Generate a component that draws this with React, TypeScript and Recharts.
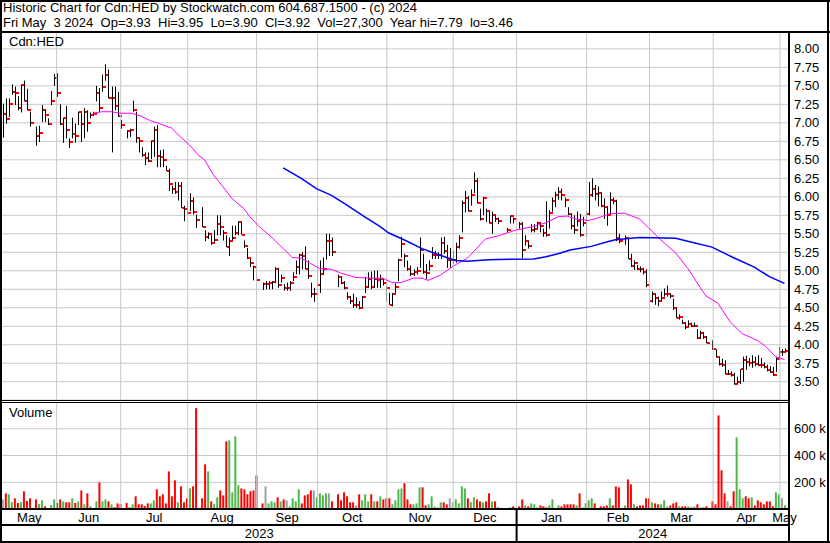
import React from "react";
import {
  Bar,
  CartesianGrid,
  Cell,
  ComposedChart,
  Line,
  ReferenceLine,
  XAxis,
  YAxis,
} from "recharts";

const FONT = '"Liberation Sans", Arial, sans-serif';
const GRID = "#c8c8c8";

// one slot per weekday from Mon 8 May 2023; null = exchange closed
// prettier-ignore
const highs = [
  7.26, 7.33, 7.33, 7.52, 7.49, 7.36, 7.52, 7.57, 7.46, 7.15,
  null, 6.95, 6.96, 7.24, 7.18, 7.06, 7.43, 7.66, 7.67, 7.25,
  7.07, 7.23, 6.79, 7.07, 6.99, 7.15, 7.13, 7.2, 7.17, 7.14,
  7.15, 7.5, 7.47, 7.65, 7.79, 7.72, 7.49, 7.49, 7.42, 7.04,
  null, 6.9, 6.92, 7.3, 7.15, 6.79, 6.67, 6.6, 6.6, 6.76,
  6.95, 6.97, 6.63, 6.64, 6.42, 6.38, 6.15, 6.2, 6.2, 6.2,
  5.88, 5.95, 6.05, 5.99, 5.76, null, 5.86, 5.55, 5.52, 5.48,
  5.55, 5.75, 5.75, 5.55, 5.48, 5.45, 5.61, 5.61, 5.67, 5.66,
  5.41, 5.31, 5.16, 5.07, 5.0, null, 4.84, 4.86, 4.86, 4.86,
  5.05, 5.04, 4.95, 4.82, 4.84, 4.86, 4.98, 5.14, 5.23, 5.25,
  5.33, 5.14, 4.84, 4.77, 5.02, 5.14, 5.18, 5.5, 5.5, 5.45,
  null, 4.95, 4.92, 4.86, 4.71, 4.66, 4.69, 4.64, 4.59, 4.66,
  4.92, 4.98, 4.99, 5.0, 5.0, 4.95, 4.9, 4.8, 4.7, 4.7,
  4.83, 5.16, 5.46, 5.23, 5.14, 5.07, 5.02, 5.05, 5.45, 5.23,
  5.09, 5.14, 5.32, 5.27, 5.25, 5.45, 5.46, 5.35, 5.31, 5.27,
  5.38, 5.48, 5.95, 6.08, 6.01, 6.1, 6.33, 6.25, 5.84, 6.0,
  5.84, 5.8, 5.8, 5.75, 5.72, null, null, 5.58, 5.75, 5.72,
  null, 5.66, 5.66, 5.48, 5.4, 5.63, 5.63, 5.66, 5.64, 5.57,
  5.94, 5.82, 5.99, 6.07, 6.13, 6.11, 5.99, 5.86, 5.77, 5.75,
  5.8, 5.77, 5.73, 5.8, 6.2, 6.25, 6.16, 6.14, 6.05, 5.98,
  5.86, 6.06, 5.99, 5.96, 5.5, null, 5.48, 5.44, 5.23, 5.14,
  5.08, 5.06, 5.04, 5.02, 4.76, 4.72, 4.69, 4.65, 4.72, 4.76,
  4.8, 4.69, 4.62, 4.5, 4.41, 4.34, 4.3, 4.33, 4.3, 4.3,
  4.21, 4.19, 4.17, 4.12, null, 4.06, 3.94, 3.83, 3.81, 3.79,
  3.66, 3.64, 3.62, 3.57, 3.67, 3.84, 3.85, 3.82, 3.86, 3.84,
  3.86, 3.82, 3.76, 3.73, 3.71, 3.7, 3.83, 3.97, 3.94, 3.95,
];

// prettier-ignore
const lows = [
  6.8, 6.99, 7.08, 7.38, 7.24, 7.17, 7.14, 7.29, 7.17, 6.95,
  null, 6.69, 6.74, 7.01, 7.01, 6.97, 7.24, 7.5, 7.35, 6.97,
  6.73, 6.79, 6.66, 6.79, 6.73, 6.97, 6.74, 6.79, 6.88, 7.06,
  7.09, 7.29, 7.15, 7.42, 7.57, 7.33, 6.6, 7.17, 7.08, 6.92,
  null, 6.79, 6.81, 7.15, 6.73, 6.6, 6.54, 6.43, 6.47, 6.51,
  6.54, 6.4, 6.4, 6.4, 6.35, 6.08, 6.04, 6.04, 5.95, 5.85,
  5.67, 5.76, 5.81, 5.76, 5.58, null, 5.59, 5.4, 5.43, 5.35,
  5.39, 5.48, 5.48, 5.41, 5.32, 5.2, 5.41, 5.48, 5.48, 5.49,
  5.31, 5.16, 5.05, 4.87, 4.86, null, 4.74, 4.75, 4.75, 4.75,
  4.83, 4.77, 4.84, 4.73, 4.73, 4.73, 4.86, 4.95, 4.95, 5.02,
  5.02, 4.89, 4.64, 4.58, 4.78, 4.7, 4.95, 5.15, 5.2, 5.2,
  null, 4.78, 4.82, 4.75, 4.61, 4.55, 4.5, 4.5, 4.48, 4.5,
  4.7, 4.77, 4.75, 4.77, 4.77, 4.77, 4.8, 4.59, 4.54, 4.52,
  4.7, 4.86, 5.18, 5.05, 5.0, 4.93, 4.93, 4.95, 5.04, 4.96,
  4.89, 5.0, 5.16, 5.16, 5.16, 5.16, 5.23, 5.04, 5.04, 5.09,
  5.11, 5.3, 5.52, 5.79, 5.8, 5.88, 6.05, 5.91, 5.68, 5.75,
  5.66, 5.64, 5.5, 5.66, 5.63, null, null, 5.52, 5.64, 5.64,
  null, 5.57, 5.17, 5.34, 5.3, 5.52, 5.52, 5.57, 5.52, 5.46,
  5.46, 5.57, 5.8, 5.86, 5.96, 5.95, 5.86, 5.75, 5.56, 5.5,
  5.6, 5.46, 5.6, 5.46, 5.75, 6.0, 5.95, 5.87, 5.86, 5.7,
  5.61, 5.76, 5.9, 5.4, 5.37, null, 5.35, 5.16, 5.05, 5.01,
  5.01, 4.98, 4.95, 4.78, 4.52, 4.57, 4.54, 4.52, 4.59, 4.65,
  4.65, 4.63, 4.47, 4.36, 4.34, 4.28, 4.21, 4.24, 4.24, 4.24,
  4.08, 4.08, 4.08, 4.02, null, 3.93, 3.83, 3.72, 3.7, 3.6,
  3.59, 3.57, 3.46, 3.47, 3.47, 3.5, 3.66, 3.71, 3.69, 3.71,
  3.71, 3.69, 3.68, 3.64, 3.62, 3.58, 3.63, 3.81, 3.85, 3.9,
];

// prettier-ignore
const closes = [
  7.12, 7.05, 7.25, 7.42, 7.4, 7.2, 7.51, 7.3, 7.18, 7.0,
  null, 6.82, 6.86, 7.18, 7.1, 6.99, 7.29, 7.6, 7.41, 6.98,
  7.06, 6.9, 6.74, 6.85, 6.82, 7.14, 6.98, 7.14, 7.0, 7.1,
  7.12, 7.41, 7.2, 7.49, 7.64, 7.33, 7.34, 7.23, 7.09, 6.97,
  null, 6.89, 6.9, 7.17, 6.8, 6.75, 6.57, 6.53, 6.48, 6.75,
  6.9, 6.55, 6.54, 6.5, 6.35, 6.17, 6.11, 6.06, 6.15, 5.85,
  5.84, 5.78, 5.94, 5.79, 5.69, null, 5.59, 5.45, 5.5, 5.37,
  5.41, 5.63, 5.59, 5.51, 5.32, 5.4, 5.44, 5.51, 5.66, 5.49,
  5.34, 5.17, 5.1, 5.05, 4.87, null, 4.82, 4.82, 4.84, 4.85,
  5.03, 4.81, 4.9, 4.77, 4.77, 4.83, 4.92, 5.05, 5.21, 5.2,
  5.02, 4.93, 4.69, 4.69, 4.81, 4.95, 5.02, 5.4, 5.4, 5.26,
  null, 4.92, 4.83, 4.77, 4.64, 4.59, 4.54, 4.54, 4.5, 4.65,
  4.78, 4.89, 4.78, 4.89, 4.87, 4.89, 4.84, 4.77, 4.54, 4.69,
  4.78, 5.15, 5.36, 5.2, 5.02, 4.96, 4.99, 5.0, 5.28, 4.99,
  4.97, 5.07, 5.21, 5.21, 5.21, 5.37, 5.27, 5.15, 5.15, 5.15,
  5.32, 5.44, 5.92, 5.99, 5.81, 6.02, 6.22, 5.91, 5.7, 5.99,
  5.81, 5.65, 5.76, 5.7, 5.67, null, null, 5.55, 5.74, 5.7,
  null, 5.63, 5.28, 5.4, 5.33, 5.55, 5.56, 5.64, 5.6, 5.51,
  5.48, 5.78, 5.94, 6.02, 6.06, 6.02, 5.96, 5.77, 5.6, 5.55,
  5.67, 5.48, 5.65, 5.77, 6.02, 6.11, 6.04, 6.05, 5.88, 5.86,
  5.76, 5.96, 5.95, 5.44, 5.4, null, 5.44, 5.16, 5.06, 5.1,
  5.03, 5.02, 4.98, 4.81, 4.59, 4.69, 4.63, 4.59, 4.63, 4.68,
  4.68, 4.66, 4.49, 4.36, 4.38, 4.3, 4.24, 4.28, 4.26, 4.26,
  4.09, 4.16, 4.11, 4.02, null, 3.94, 3.84, 3.74, 3.72, 3.6,
  3.6, 3.59, 3.47, 3.5, 3.67, 3.8, 3.76, 3.75, 3.77, 3.74,
  3.73, 3.72, 3.7, 3.66, 3.63, 3.59, 3.81, 3.9, 3.9, 3.92,
];

// thousands of shares
// prettier-ignore
const volumes = [
  72, 117, 110, 52, 80, 45, 52, 132, 60, 80,
  null, 72, 37, 65, 20, 7, 30, 72, 45, 72,
  57, 50, 50, 80, 45, 57, 139, 35, 117, 20,
  7, 57, 199, 57, 72, 57, 35, 15, 42, 37,
  null, 45, 15, 35, 95, 35, 35, 22, 42, 42,
  65, 147, 95, 110, 42, 281, 95, 214, 50, 169,
  50, 80, 154, 169, 754, null, 80, 334, 281, 57,
  37, 87, 139, 102, 505, 513, 125, 543, 177, 154,
  147, 110, 132, 139, 251, null, 42, 169, 42, 57,
  50, 87, 57, 72, 65, 20, 80, 57, 147, 42,
  102, 110, 139, 139, 87, 117, 102, 117, 117, 57,
  null, 110, 65, 125, 95, 50, 50, 27, 110, 65,
  110, 57, 110, 57, 57, 95, 72, 80, 80, 35,
  65, 147, 154, 192, 72, 35, 35, 42, 162, 162,
  27, 35, 95, 20, 12, 50, 50, 35, 80, 50,
  72, 42, 169, 154, 80, 50, 87, 72, 57, 50,
  57, 117, 57, 57, 12, null, null, 5, 12, 20,
  null, 20, 72, 27, 20, 42, 35, 12, 27, 20,
  12, 27, 72, 5, 27, 20, 35, 35, 35, 35,
  27, 117, 12, 42, 65, 80, 42, 5, 20, 20,
  27, 80, 27, 169, 162, null, 27, 221, 184, 35,
  20, 27, 27, 80, 80, 50, 42, 35, 35, 65,
  20, 27, 42, 50, 20, 20, 20, 20, 12, 20,
  35, 12, 12, 20, null, 57, 35, 700, 289, 117,
  57, 20, 132, 535, 147, 80, 95, 80, 87, 27,
  65, 50, 35, 57, 57, 20, 125, 110, 80, 27,
];

// moving averages: [slot, price]
const pinkMa: [number, number][] = [
  [30, 7.13], [33, 7.15], [36, 7.15], [39, 7.13], [43, 7.13], [46, 7.09],
  [49, 7.03], [52, 6.99], [56, 6.93], [59, 6.81], [62, 6.7], [65, 6.56],
  [67, 6.5], [70, 6.29], [73, 6.14], [76, 5.98], [80, 5.84], [82, 5.73],
  [85, 5.6], [89, 5.46], [93, 5.3], [96, 5.18], [99, 5.17], [102, 5.1],
  [105, 5.03], [109, 5.02], [112, 4.97], [117, 4.91], [122, 4.9], [126, 4.9],
  [129, 4.84], [132, 4.84], [136, 4.9], [139, 4.9], [141, 4.87], [145, 4.94],
  [150, 5.08], [154, 5.17], [157, 5.3], [160, 5.43], [164, 5.47], [170, 5.55],
  [176, 5.6], [180, 5.65], [184, 5.73], [187, 5.74], [190, 5.7], [194, 5.68],
  [197, 5.71], [201, 5.77], [206, 5.78], [211, 5.7], [214, 5.58], [218, 5.42],
  [223, 5.24], [227, 5.03], [231, 4.78], [233, 4.66], [237, 4.56], [241, 4.31],
  [245, 4.15], [250, 4.06], [253, 3.97], [256, 3.84], [259, 3.8],
];

const blueMa: [number, number][] = [
  [93, 6.39], [99, 6.25], [104, 6.11], [109, 6.02], [114, 5.89], [120, 5.73],
  [125, 5.6], [128, 5.51], [133, 5.42], [139, 5.3], [145, 5.21], [150, 5.14],
  [154, 5.13], [161, 5.15], [176, 5.16], [180, 5.19], [184, 5.23], [188, 5.28],
  [195, 5.33], [201, 5.4], [203, 5.42], [211, 5.45], [223, 5.44], [229, 5.38],
  [235, 5.32], [242, 5.18], [249, 5.05], [254, 4.92], [259, 4.83],
];

const monthNames = ["May", "Jun", "Jul", "Aug", "Sep", "Oct", "Nov", "Dec", "Jan", "Feb", "Mar", "Apr", "May"];
const monthStarts = [18, 39.2, 61.4, 84.2, 104.4, 127.3, 149.3, 170.3, 193.5, 214.3, 235.4, 257.5];
const yearNames = ["2023", "2024"];
const yearBreak = 170.3;
const priceTicks = [3.5, 3.75, 4, 4.25, 4.5, 4.75, 5, 5.25, 5.5, 5.75, 6, 6.25, 6.5, 6.75, 7, 7.25, 7.5, 7.75, 8];
const volumeTicks = [200, 400, 600];

const X_DOMAIN: [number, number] = [-0.1, 260.5];

const rows: any[] = closes.map((c, i) => ({
  i,
  c,
  h: highs[i],
  l: lows[i],
  v: volumes[i],
  pink: null as number | null,
  blue: null as number | null,
}));
pinkMa.forEach(([i, v]) => (rows[i].pink = v));
blueMa.forEach(([i, v]) => (rows[i].blue = v));

const edges = [X_DOMAIN[0], ...monthStarts, X_DOMAIN[1]];
const monthMids = monthNames.map((_, k) => (edges[k] + edges[k + 1]) / 2);
const yearMids = [(X_DOMAIN[0] + yearBreak) / 2, (yearBreak + X_DOMAIN[1]) / 2];

function volColor(i: number) {
  const c = closes[i];
  if (c == null) return "transparent";
  for (let j = i - 1; j >= 0; j--) {
    const p = closes[j];
    if (p != null) return c > p ? "#4cb84c" : c < p ? "#ff0000" : "#a0a0a0";
  }
  return "#a0a0a0";
}

const HiLoBar = (p: any) => {
  const { x, y, width, height, payload } = p;
  if (payload.h == null) return null;
  const cx = Math.round(x + width / 2);
  const span = payload.h - payload.l;
  const yc = span > 0 ? y + ((payload.h - payload.c) / span) * height : y;
  return (
    <g>
      <rect x={cx} y={y} width={1} height={Math.max(height, 1)} fill="#000" />
      <rect x={cx + 1} y={Math.round(yc) - 1} width={3} height={2} fill="#ff0000" />
    </g>
  );
};

const MonthTick = (p: any) => {
  const k = monthMids.indexOf(p.payload.value);
  return (
    <text x={p.x} y={p.y + 13} textAnchor="middle" fontSize={13} fontFamily={FONT} fill="#000">
      {monthNames[k]}
    </text>
  );
};

const YearTick = (p: any) => {
  const v = p.payload.value;
  if (v === yearBreak) {
    return <line x1={p.x} x2={p.x} y1={p.y - 16} y2={p.y + 17} stroke="#000" strokeWidth={2} />;
  }
  return (
    <text x={p.x} y={p.y + 13} textAnchor="middle" fontSize={13} fontFamily={FONT} fill="#000">
      {yearNames[yearMids.indexOf(v)]}
    </text>
  );
};

const axisText = { fill: "#000", fontSize: 13, fontFamily: FONT };

export default function App() {
  return (
    <div
      style={{
        position: "absolute",
        left: 0,
        top: 0,
        width: 830,
        height: 543,
        background: "#fff",
        fontFamily: FONT,
        overflow: "hidden",
      }}
    >
      <div style={{ position: "absolute", left: 3, top: 0, fontSize: 13, lineHeight: "15px", whiteSpace: "pre" }}>
        {"Historic Chart for Cdn:HED by Stockwatch.com 604.687.1500 - (c) 2024"}
      </div>
      <div style={{ position: "absolute", left: 3, top: 15, fontSize: 13, lineHeight: "15px", whiteSpace: "pre" }}>
        {"Fri May  3 2024  Op=3.93  Hi=3.95  Lo=3.90  Cl=3.92  Vol=27,300  Year hi=7.79  lo=3.46"}
      </div>

      <div style={{ position: "absolute", left: 0, top: 32 }}>
        <ComposedChart width={830} height={368} data={rows} margin={{ top: 0, right: 3, bottom: 0, left: 2 }}>
          <CartesianGrid stroke={GRID} vertical={false} />
          <XAxis dataKey="i" type="number" domain={X_DOMAIN} allowDataOverflow hide />
          <YAxis
            orientation="right"
            domain={[3.253, 8.228]}
            allowDataOverflow
            ticks={priceTicks}
            interval={0}
            tickFormatter={(v: number) => v.toFixed(2)}
            width={38}
            tickLine={false}
            axisLine={false}
            tickSize={0}
            tickMargin={5}
            tick={axisText}
          />
          {monthStarts.map((m) => (
            <ReferenceLine key={m} x={m} stroke={GRID} />
          ))}
          <Bar
            dataKey={(d: any) => (d.h == null ? null : [d.l, d.h])}
            shape={HiLoBar}
            barSize={2}
            isAnimationActive={false}
          />
          <Line dataKey="pink" stroke="#ff00ff" strokeWidth={1} dot={false} connectNulls isAnimationActive={false} />
          <Line dataKey="blue" stroke="#0000ff" strokeWidth={1.5} dot={false} connectNulls isAnimationActive={false} />
        </ComposedChart>
      </div>

      <div style={{ position: "absolute", left: 0, top: 402 }}>
        <ComposedChart width={830} height={140} data={rows} margin={{ top: 0, right: 3, bottom: 0, left: 2 }}>
          <CartesianGrid stroke={GRID} vertical={false} xAxisId="m" />
          <XAxis
            xAxisId="m"
            dataKey="i"
            type="number"
            domain={X_DOMAIN}
            allowDataOverflow
            ticks={monthMids}
            interval={0}
            height={16}
            tickSize={0}
            tickMargin={0}
            tickLine={false}
            axisLine={{ stroke: "#000", strokeWidth: 2 }}
            tick={<MonthTick />}
          />
          <XAxis
            xAxisId="y"
            dataKey="i"
            type="number"
            domain={X_DOMAIN}
            allowDataOverflow
            ticks={[yearMids[0], yearBreak, yearMids[1]]}
            interval={0}
            height={17}
            tickSize={0}
            tickMargin={0}
            tickLine={false}
            axisLine={{ stroke: "#000", strokeWidth: 2 }}
            tick={<YearTick />}
          />
          <YAxis
            orientation="right"
            domain={[0, 800]}
            allowDataOverflow
            ticks={volumeTicks}
            interval={0}
            tickFormatter={(v: number) => `${v} k`}
            width={38}
            tickLine={false}
            axisLine={false}
            tickSize={0}
            tickMargin={5}
            tick={axisText}
          />
          {monthStarts.map((m) => (
            <ReferenceLine key={m} x={m} xAxisId="m" stroke={GRID} />
          ))}
          <Bar xAxisId="m" dataKey="v" barSize={2} isAnimationActive={false}>
            {rows.map((r) => (
              <Cell key={r.i} fill={volColor(r.i)} />
            ))}
          </Bar>
        </ComposedChart>
      </div>

      <div style={{ position: "absolute", left: 9, top: 34, fontSize: 13, lineHeight: "15px" }}>Cdn:HED</div>
      <div style={{ position: "absolute", left: 9, top: 405, fontSize: 13, lineHeight: "15px" }}>Volume</div>

      <svg width={830} height={543} style={{ position: "absolute", left: 0, top: 0, pointerEvents: "none" }}>
        <rect x={0} y={0} width={830} height={2} fill="#000" />
        <rect x={0} y={0} width={2} height={543} fill="#000" />
        <rect x={827} y={0} width={2} height={543} fill="#000" />
        <rect x={0} y={541} width={830} height={2} fill="#000" />
        <rect x={0} y={31} width={830} height={2} fill="#000" />
        <rect x={788} y={31} width={2} height={512} fill="#000" />
        <rect x={0} y={400} width={790} height={1} fill="#000" />
        <rect x={0} y={402} width={790} height={1} fill="#000" />
      </svg>
    </div>
  );
}
